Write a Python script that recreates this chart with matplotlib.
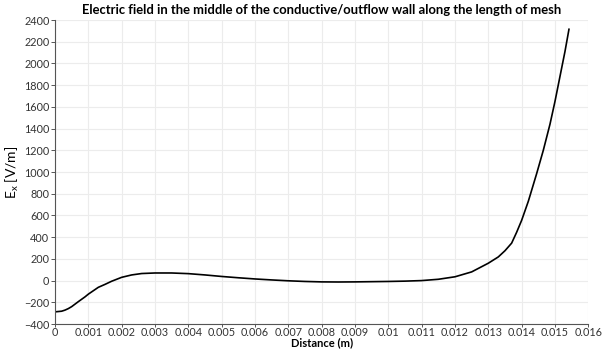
import matplotlib.pyplot as plt

# sampled profile of E_x along the wall
distance = [0.0, 0.0002, 0.0003, 0.0004, 0.0005, 0.0007, 0.0009, 0.001,
            0.0013, 0.0015, 0.0017, 0.002, 0.0023, 0.0026, 0.003, 0.0035,
            0.004, 0.0045, 0.005, 0.0055, 0.006, 0.0065, 0.007, 0.0075,
            0.008, 0.0085, 0.009, 0.0095, 0.01, 0.0105, 0.011, 0.0115,
            0.012, 0.0125, 0.013, 0.0133, 0.0135, 0.0137, 0.01385, 0.014,
            0.0142, 0.01445, 0.01465, 0.01485, 0.015, 0.01515, 0.0153,
            0.01542]
e_x = [-288, -282, -272, -258, -240, -194, -150, -125,
       -62, -35, -6, 30, 52, 65, 70, 70,
       64, 52, 38, 26, 15, 6, -2, -8,
       -12, -13, -12, -10, -8, -5, 0, 12,
       35, 80, 160, 218, 275, 345, 445, 555,
       730, 985, 1200, 1440, 1650, 1880, 2110,
       2315]

x_ticks = [i * 0.001 for i in range(17)]
x_labels = ["0"] + ["%g" % round(t, 3) for t in x_ticks[1:]]
y_ticks = list(range(-400, 2401, 200))

plt.rcParams["font.family"] = ["Lato", "DejaVu Sans"]

fig = plt.figure(figsize=(6.05, 3.49), dpi=100)
ax = fig.add_axes([0.0909, 0.0716, 0.8815, 0.871])

ax.plot(distance, e_x, color="black", linewidth=1.2, solid_joinstyle="round")

ax.set_xlim(0, 0.016)
ax.set_ylim(-400, 2400)
ax.set_xticks(x_ticks)
ax.set_xticklabels(x_labels)
ax.set_yticks(y_ticks)

ax.grid(True, color="#ececec", linewidth=0.8)
ax.set_axisbelow(True)
for side in ["top", "right"]:
    ax.spines[side].set_visible(False)
for side in ["left", "bottom"]:
    ax.spines[side].set_color("#555555")
    ax.spines[side].set_linewidth(0.8)
ax.tick_params(axis="both", labelsize=7.8, length=3, width=0.7, color="#555555",
               labelcolor="#333333", pad=1)
ax.tick_params(axis="x", length=2, pad=0.5)

ax.set_title("Electric field in the middle of the conductive/outflow wall along the length of mesh",
             fontsize=9.4, fontweight="bold", pad=4)
ax.set_xlabel("Distance (m)", fontsize=8, fontweight="bold")
ax.xaxis.set_label_coords(0.5, -0.044)
ax.set_ylabel("E$_\\mathregular{x}$ [V/m]", fontsize=10, labelpad=2)

fig.savefig("out.png", dpi=100)
